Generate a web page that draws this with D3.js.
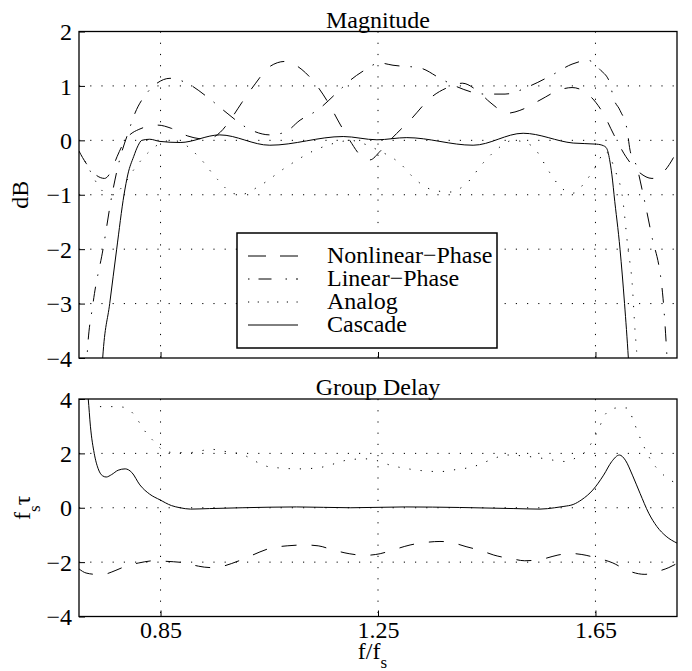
<!DOCTYPE html>
<html>
<head>
<meta charset="utf-8">
<script src="https://cdn.jsdelivr.net/npm/d3@7"></script>
<style>
  body { margin: 0; background: #fff; }
  svg { display: block; }
  text { font-family: "Liberation Serif", "Times New Roman", Times, serif; fill: #000; }
</style>
</head>
<body>
<svg width="692" height="671"></svg>
<script>
// ---- data ----
const fTicks = [0.85, 1.25, 1.65]
const magTicks = [-4, -3, -2, -1, 0, 1, 2]
const gdTicks = [-4, -2, 0, 2, 4]
const legendNames = ['Nonlinear\u2212Phase', 'Linear\u2212Phase', 'Analog', 'Cascade']

// Magnitude (dB)
const magNonlinF = [0.700, 0.713, 0.733, 0.747, 0.760, 0.770, 0.785, 0.810, 0.845, 0.870, 0.900, 0.935, 0.960, 0.980, 1.000, 1.025, 1.050, 1.079, 1.110, 1.130, 1.158, 1.180, 1.198, 1.220, 1.235, 1.254, 1.272, 1.309, 1.349, 1.386, 1.405, 1.434, 1.456, 1.489, 1.511, 1.548, 1.585, 1.607, 1.636, 1.664, 1.684, 1.706, 1.732, 1.754, 1.778, 1.800]
const magNonlinDb = [-0.20, -0.42, -0.65, -0.70, -0.55, -0.30, 0.00, 0.20, 0.28, 0.22, 0.08, 0.02, 0.15, 0.40, 0.70, 1.05, 1.35, 1.45, 1.30, 1.10, 0.70, 0.30, 0.00, -0.30, -0.36, -0.20, 0.00, 0.37, 0.80, 1.00, 1.05, 0.90, 0.70, 0.50, 0.55, 0.74, 0.93, 0.97, 0.85, 0.50, 0.10, -0.30, -0.60, -0.70, -0.55, -0.20]

const magLinF = [0.712, 0.7147, 0.7258, 0.7442, 0.7607, 0.7754, 0.7901, 0.803, 0.825, 0.8435, 0.8674, 0.8987, 0.9355, 0.9723, 1.0054, 1.0514, 1.079, 1.1066, 1.1378, 1.1801, 1.1985, 1.2206, 1.2537, 1.2776, 1.3273, 1.3641, 1.3917, 1.4469, 1.4837, 1.5297, 1.5701, 1.6069, 1.6364, 1.6584, 1.6768, 1.6824, 1.6952, 1.7081, 1.7136, 1.7265, 1.7357, 1.7523, 1.7743, 1.7817, 1.785]
const magLinDb = [-4.6, -4.0, -3.0, -2.0, -1.0, -0.33, 0.13, 0.50, 0.87, 1.05, 1.14, 1.05, 0.80, 0.50, 0.25, 0.10, 0.15, 0.37, 0.55, 0.93, 1.10, 1.26, 1.42, 1.38, 1.33, 1.14, 1.00, 0.85, 0.85, 1.00, 1.20, 1.40, 1.47, 1.30, 1.05, 0.80, 0.55, 0.20, -0.18, -0.50, -0.90, -1.70, -2.90, -4.0, -4.6]

const magAnalogF = [0.700, 0.713, 0.733, 0.748, 0.762, 0.780, 0.800, 0.830, 0.855, 0.872, 0.890, 0.920, 0.955, 0.985, 1.000, 1.030, 1.080, 1.130, 1.175, 1.200, 1.220, 1.250, 1.290, 1.320, 1.350, 1.3825, 1.413, 1.443, 1.4745, 1.498, 1.520, 1.5352, 1.5664, 1.5848, 1.609, 1.632, 1.6524, 1.664, 1.669, 1.676, 1.688, 1.699, 1.710, 1.7173, 1.7228, 1.7265, 1.729]
const magAnalogDb = [-0.20, -0.42, -0.79, -0.97, -1.00, -0.85, -0.55, -0.20, -0.03, 0.00, -0.05, -0.30, -0.72, -0.98, -0.99, -0.85, -0.50, -0.20, -0.04, 0.00, -0.05, -0.18, -0.42, -0.73, -0.91, -0.95, -0.79, -0.42, -0.12, 0.00, -0.04, -0.12, -0.60, -0.85, -0.97, -0.75, -0.45, -0.24, -0.20, -0.30, -0.60, -1.00, -2.00, -2.60, -3.50, -4.0, -4.6]

const magCascF = [0.740, 0.7436, 0.7565, 0.7693, 0.7828, 0.790, 0.8005, 0.8085, 0.8155, 0.830, 0.849, 0.886, 0.959, 1.051, 1.186, 1.248, 1.303, 1.425, 1.517, 1.609, 1.652, 1.665, 1.6708, 1.6768, 1.6814, 1.6842, 1.6952, 1.7035, 1.7105, 1.714]
const magCascDb = [-4.6, -4.0, -3.0, -2.0, -1.0, -0.62, -0.30, -0.10, 0.00, 0.02, -0.02, -0.04, 0.10, -0.09, 0.07, 0.01, 0.05, -0.09, 0.13, -0.05, -0.07, -0.10, -0.15, -0.40, -0.73, -1.00, -2.00, -3.00, -4.0, -4.6]

// Group delay (f_s tau)
const gdNonlinF = [0.700, 0.713, 0.732, 0.744, 0.768, 0.790, 0.810, 0.838, 0.860, 0.895, 0.920, 0.941, 0.960, 0.981, 1.018, 1.050, 1.083, 1.116, 1.140, 1.167, 1.197, 1.226, 1.254, 1.278, 1.309, 1.340, 1.364, 1.383, 1.412, 1.440, 1.463, 1.497, 1.520, 1.554, 1.581, 1.603, 1.625, 1.651, 1.682, 1.708, 1.741, 1.763, 1.785, 1.800]
const gdNonlinV = [-2.25, -2.40, -2.45, -2.45, -2.30, -2.12, -2.03, -1.95, -1.97, -2.03, -2.15, -2.20, -2.17, -2.05, -1.75, -1.50, -1.40, -1.37, -1.40, -1.55, -1.69, -1.75, -1.69, -1.55, -1.37, -1.27, -1.24, -1.27, -1.43, -1.58, -1.74, -1.88, -1.95, -1.88, -1.74, -1.68, -1.72, -1.84, -2.03, -2.30, -2.45, -2.35, -2.20, -2.05]

const gdAnalogF = [0.7386, 0.762, 0.781, 0.7993, 0.8122, 0.8245, 0.8398, 0.849, 0.8545, 0.8797, 0.9042, 0.9226, 0.9441, 0.9625, 0.9833, 1.0017, 1.0177, 1.0514, 1.1066, 1.140, 1.170, 1.190, 1.225, 1.245, 1.272, 1.309, 1.364, 1.392, 1.425, 1.456, 1.487, 1.520, 1.548, 1.597, 1.615, 1.634, 1.6524, 1.6708, 1.6891, 1.710, 1.7191, 1.7351, 1.7535, 1.7688, 1.7872, 1.800]
const gdAnalogV = [3.72, 3.72, 3.70, 3.47, 3.10, 2.73, 2.40, 2.20, 2.08, 2.03, 2.03, 2.09, 2.15, 2.09, 2.03, 1.96, 1.78, 1.50, 1.43, 1.47, 1.62, 1.74, 1.80, 1.75, 1.57, 1.42, 1.33, 1.40, 1.51, 1.75, 1.94, 1.90, 1.83, 1.70, 1.85, 2.12, 2.75, 3.50, 3.67, 3.67, 3.23, 2.43, 1.70, 1.33, 1.02, 0.90]

const gdCascF = [0.714, 0.717, 0.721, 0.728, 0.735, 0.743, 0.750, 0.760, 0.772, 0.785, 0.797, 0.812, 0.830, 0.849, 0.870, 0.886, 0.905, 0.940, 1.000, 1.100, 1.200, 1.300, 1.400, 1.500, 1.548, 1.575, 1.592, 1.609, 1.625, 1.645, 1.665, 1.680, 1.694, 1.705, 1.718, 1.732, 1.748, 1.763, 1.780, 1.800]
const gdCascV = [4.6, 4.0, 3.0, 2.0, 1.45, 1.18, 1.13, 1.22, 1.38, 1.43, 1.30, 0.84, 0.50, 0.29, 0.08, 0.00, -0.05, -0.03, 0.00, 0.03, 0.00, 0.03, 0.01, -0.03, -0.05, 0.00, 0.05, 0.12, 0.30, 0.65, 1.20, 1.70, 1.94, 1.75, 1.20, 0.53, -0.20, -0.69, -1.05, -1.30]

// ---- layout ----
const svg = d3.select('svg')
const left = 79, right = 677
const fontSize = 24

const x = d3.scaleLinear().domain([0.7, 1.8]).range([left, right])
const yMag = d3.scaleLinear().domain([-4, 2]).range([358, 31.5])
const yGd = d3.scaleLinear().domain([-4, 4]).range([616.5, 399])

const styles = {
  nonlin: '15,15',
  lin: '1.5,11,15,11',
  analog: '1.2,10',
  casc: null
}

const zip = (a, b) => a.map((v, i) => [v, b[i]])

function panel(id, y, ticks, series, labels) {
  const [y0, y1] = y.range()
  const g = svg.append('g')

  g.append('clipPath').attr('id', id)
    .append('rect')
    .attr('x', left).attr('y', y1)
    .attr('width', right - left).attr('height', y0 - y1)

  // dotted grid
  const grid = g.append('g')
    .attr('stroke', '#000')
    .attr('stroke-width', 1)
    .attr('stroke-dasharray', '1.2,10')
  grid.selectAll('.gx').data(fTicks).join('line')
    .attr('class', 'gx')
    .attr('x1', d => x(d)).attr('x2', d => x(d))
    .attr('y1', y1).attr('y2', y0)
  grid.selectAll('.gy').data(ticks.slice(1, -1)).join('line')
    .attr('class', 'gy')
    .attr('y1', d => y(d)).attr('y2', d => y(d))
    .attr('x1', left).attr('x2', right)

  const line = d3.line()
    .x(d => x(d[0]))
    .y(d => y(d[1]))
    .curve(d3.curveMonotoneX)

  g.append('g').attr('clip-path', `url(#${id})`)
    .selectAll('path').data(series).join('path')
    .attr('d', d => line(d.pts))
    .attr('fill', 'none')
    .attr('stroke', '#000')
    .attr('stroke-width', 1)
    .attr('stroke-dasharray', d => styles[d.style])

  // axes, ticks inside
  const ax = g.append('g')
    .attr('transform', `translate(${left},0)`)
    .call(d3.axisLeft(y).tickValues(ticks).tickFormat(d3.format('d'))
      .tickSizeInner(-6).tickSizeOuter(0).tickPadding(7))
  const bx = g.append('g')
    .attr('transform', `translate(0,${y0})`)
    .call(d3.axisBottom(x).tickValues(fTicks)
      .tickFormat(labels ? d3.format('.2f') : '')
      .tickSizeInner(-6).tickSizeOuter(0).tickPadding(4))

  for (const a of [ax, bx]) {
    a.select('.domain').remove()
    a.selectAll('line').attr('stroke', '#000').attr('stroke-width', 1)
    a.selectAll('text')
      .attr('font-size', fontSize)
      .attr('fill', '#000')
  }
  ax.selectAll('text').attr('dy', '0.34em')

  return g
}

const magPanel = panel('clipMag', yMag, magTicks, [
  { style: 'analog', pts: zip(magAnalogF, magAnalogDb) },
  { style: 'nonlin', pts: zip(magNonlinF, magNonlinDb) },
  { style: 'lin', pts: zip(magLinF, magLinDb) },
  { style: 'casc', pts: zip(magCascF, magCascDb) }
], false)

const gdPanel = panel('clipGd', yGd, gdTicks, [
  { style: 'analog', pts: zip(gdAnalogF, gdAnalogV) },
  { style: 'nonlin', pts: zip(gdNonlinF, gdNonlinV) },
  { style: 'casc', pts: zip(gdCascF, gdCascV) }
], true)

// legend
const legend = magPanel.append('g').attr('transform', 'translate(237,233)')
legend.append('rect')
  .attr('width', 260).attr('height', 115)
  .attr('fill', '#fff').attr('stroke', '#000').attr('stroke-width', 1.5)
const legendDash = ['18,14', '1.5,9,13,14', '1.2,8.5', null]
legend.selectAll('line').data(legendNames).join('line')
  .attr('x1', 11).attr('x2', 61)
  .attr('y1', (d, i) => 23 + i * 23).attr('y2', (d, i) => 23 + i * 23)
  .attr('stroke', '#000').attr('stroke-width', 1)
  .attr('stroke-dasharray', (d, i) => legendDash[i])
legend.selectAll('text').data(legendNames).join('text')
  .attr('x', 90).attr('y', (d, i) => 30 + i * 23)
  .attr('font-size', fontSize)
  .text(d => d)

// boxes on top
for (const y of [yMag, yGd]) {
  const [y0, y1] = y.range()
  svg.append('rect')
    .attr('x', left).attr('y', y1)
    .attr('width', right - left).attr('height', y0 - y1)
    .attr('fill', 'none').attr('stroke', '#000').attr('stroke-width', 1.3)
}

// titles and labels
const cx = (left + right) / 2
svg.append('text')
  .attr('x', cx).attr('y', 27.5)
  .attr('text-anchor', 'middle').attr('font-size', fontSize)
  .text('Magnitude')
svg.append('text')
  .attr('x', cx).attr('y', 395)
  .attr('text-anchor', 'middle').attr('font-size', fontSize)
  .text('Group Delay')

svg.append('text')
  .attr('transform', `translate(28,${(yMag.range()[0] + yMag.range()[1]) / 2}) rotate(-90)`)
  .attr('text-anchor', 'middle').attr('font-size', fontSize)
  .text('dB')

const ylab = svg.append('text')
  .attr('transform', `translate(30,${yGd(0)}) rotate(-90)`)
  .attr('text-anchor', 'middle').attr('font-size', fontSize)
ylab.append('tspan').text('f')
ylab.append('tspan').attr('dy', 10).attr('font-size', 17).text('s')
ylab.append('tspan').attr('dy', -10).text('\u03c4')

const xlab = svg.append('text')
  .attr('x', 372.5).attr('y', 659)
  .attr('text-anchor', 'middle').attr('font-size', fontSize)
xlab.append('tspan').text('f/f')
xlab.append('tspan').attr('dy', 9).attr('font-size', 17).text('s')
</script>
</body>
</html>
